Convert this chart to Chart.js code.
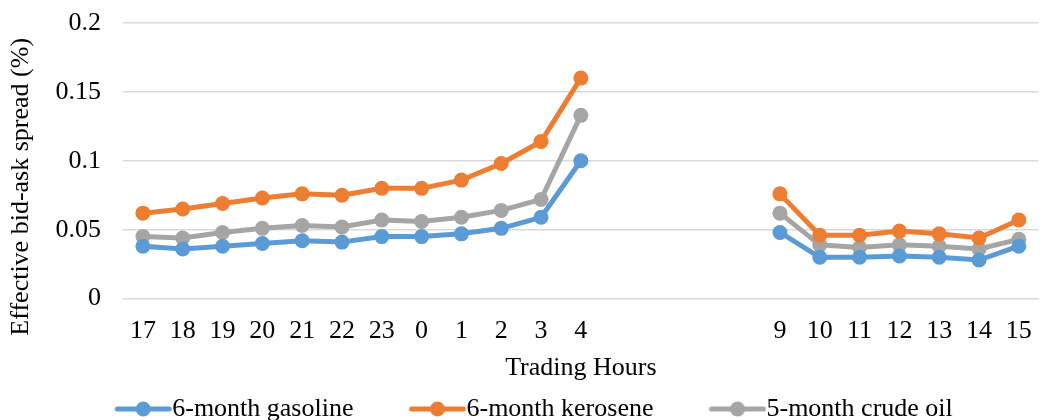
<!DOCTYPE html>
<html>
<head>
<meta charset="utf-8">
<script src="https://cdn.jsdelivr.net/npm/chart.js@4.4.1/dist/chart.umd.min.js"></script>
<style>
  html, body { margin: 0; padding: 0; background: #ffffff; }
  #wrap { width: 1049px; height: 420px; }
</style>
</head>
<body>
<div id="wrap"><canvas id="c" width="1049" height="420"></canvas></div>
<script>
// Trading hours (5-8 have no trading, so their slots stay blank)
const hours = ['17','18','19','20','21','22','23','0','1','2','3','4','','','','','9','10','11','12','13','14','15'];

// Effective bid-ask spread (%) by hour
const gasoline6m = [0.038, 0.036, 0.038, 0.040, 0.042, 0.041, 0.045, 0.045, 0.047, 0.051, 0.059, 0.100,
                    null, null, null, null,
                    0.048, 0.030, 0.030, 0.031, 0.030, 0.028, 0.038];
const kerosene6m = [0.062, 0.065, 0.069, 0.073, 0.076, 0.075, 0.080, 0.080, 0.086, 0.098, 0.114, 0.160,
                    null, null, null, null,
                    0.076, 0.046, 0.046, 0.049, 0.047, 0.044, 0.057];
const crude5m    = [0.045, 0.044, 0.048, 0.051, 0.053, 0.052, 0.057, 0.056, 0.059, 0.064, 0.072, 0.133,
                    null, null, null, null,
                    0.062, 0.039, 0.037, 0.039, 0.038, 0.036, 0.043];

const yTicks = [0, 0.05, 0.1, 0.15, 0.2];
const yTickLabels = ['0', '0.05', '0.1', '0.15', '0.2'];
const yTitle = 'Effective bid-ask spread (%)';
const xTitle = 'Trading Hours';

const seriesNames = ['6-month gasoline', '6-month kerosene', '5-month crude oil'];
const seriesColors = ['#5B9BD5', '#ED7D31', '#A5A5A5'];

const FONT = '"Liberation Serif", "Times New Roman", serif';
const FONT_SIZE = 26;
const PAD_LEFT = -24;

// Legend swatch: a short line with a marker in the middle, drawn at the
// right end of a wider transparent canvas so items get spaced apart.
const SWATCH_BOX = 88;                   // legend box width
const SWATCH_W = SWATCH_BOX + FONT_SIZE; // canvas width
function legendSwatch(color) {
  const h = 18;
  const cv = document.createElement('canvas');
  cv.width = SWATCH_W; cv.height = h;
  const g = cv.getContext('2d');
  const x1 = SWATCH_W - 3, x0 = x1 - 52;
  g.strokeStyle = color;
  g.lineWidth = 5;
  g.lineCap = 'round';
  g.beginPath();
  g.moveTo(x0, h / 2);
  g.lineTo(x1, h / 2);
  g.stroke();
  g.fillStyle = color;
  g.beginPath();
  g.arc((x0 + x1) / 2, h / 2, 7.5, 0, Math.PI * 2);
  g.fill();
  return cv;
}

function makeDataset(label, data, color) {
  return {
    label: label,
    data: data,
    borderColor: color,
    backgroundColor: color,
    borderWidth: 5,
    pointRadius: 7.5,
    pointHoverRadius: 7.5,
    pointBorderWidth: 0,
    pointBackgroundColor: color,
    pointStyle: 'circle',
    spanGaps: false,
    tension: 0,
    fill: false
  };
}

const datasets = [
  makeDataset(seriesNames[0], gasoline6m, seriesColors[0]),
  makeDataset(seriesNames[1], kerosene6m, seriesColors[1]),
  makeDataset(seriesNames[2], crude5m, seriesColors[2])
];

// Vertical axis title, set a little below the middle of the plot
const yTitlePlugin = {
  id: 'yTitle',
  afterDraw(chart) {
    const { ctx, chartArea } = chart;
    const cy = (chartArea.top + chartArea.bottom) / 2 + 26;
    ctx.save();
    ctx.translate(21, cy);
    ctx.rotate(-Math.PI / 2);
    ctx.font = FONT_SIZE + 'px ' + FONT;
    ctx.fillStyle = '#000000';
    ctx.textAlign = 'center';
    ctx.textBaseline = 'middle';
    ctx.fillText(yTitle, 0, 0);
    ctx.restore();
  }
};

new Chart(document.getElementById('c'), {
  type: 'line',
  data: { labels: hours, datasets: datasets },
  plugins: [yTitlePlugin],
  options: {
    responsive: false,
    devicePixelRatio: 1,
    animation: false,
    layout: { padding: { top: 0, right: 1, left: PAD_LEFT, bottom: -12 } },
    plugins: {
      tooltip: { enabled: false },
      legend: {
        position: 'bottom',
        labels: {
          usePointStyle: true,
          pointStyleWidth: SWATCH_BOX,
          padding: 12,
          font: { family: FONT, size: FONT_SIZE },
          color: '#000000',
          generateLabels: (chart) => chart.data.datasets.map((d, i) => ({
            text: d.label,
            pointStyle: legendSwatch(d.borderColor),
            fillStyle: d.borderColor,
            strokeStyle: d.borderColor,
            lineWidth: 0,
            hidden: false,
            datasetIndex: i,
            fontColor: '#000000'
          }))
        }
      }
    },
    scales: {
      x: {
        offset: true,
        grid: { display: false, drawTicks: false },
        border: { display: false },
        ticks: {
          autoSkip: false,
          maxRotation: 0,
          padding: 17,
          color: '#000000',
          font: { family: FONT, size: FONT_SIZE }
        },
        title: {
          display: true,
          text: xTitle,
          color: '#000000',
          font: { family: FONT, size: FONT_SIZE },
          padding: { top: -11, bottom: 0 }
        }
      },
      y: {
        min: 0,
        max: 0.2,
        afterBuildTicks: (axis) => { axis.ticks = yTicks.map(v => ({ value: v })); },
        afterFit: (axis) => {
          axis.width = 123 - PAD_LEFT;
          axis.paddingTop = 23;
        },
        grid: { color: '#D9D9D9', lineWidth: 1.5, drawTicks: false },
        border: { display: false },
        ticks: {
          padding: 22,
          color: '#000000',
          font: { family: FONT, size: FONT_SIZE },
          callback: (v) => yTickLabels[yTicks.indexOf(v)] ?? ''
        },
        title: { display: false }
      }
    }
  }
});
</script>
</body>
</html>
